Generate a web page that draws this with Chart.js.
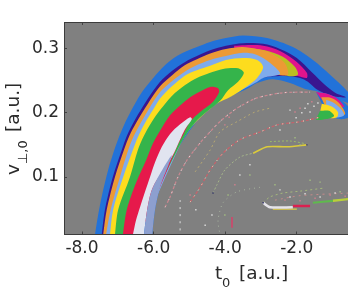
<!DOCTYPE html>
<html>
<head>
<meta charset="utf-8">
<style>
  html, body { margin: 0; padding: 0; background: #fff; }
  canvas { display: block; }
</style>
<script src="https://cdn.jsdelivr.net/npm/chart.js@4"></script>
</head>
<body>
<canvas id="chart" width="348" height="291"></canvas>
<script>
// axis ranges and ticks
var xRange = [-8.503, -0.57];
var yRange = [0.0106, 0.341];
var xTicks = [-8, -6, -4, -2];
var yTicks = [0.1, 0.2, 0.3];

// filled regions, outer to inner (t0, v)
var blueX = [-7.64,-7.55,-7.44,-7.27,-7.08,-6.91,-6.73,-6.52,-6.30,-6.04,-5.79,-5.51,-5.18,-4.79,-4.42,-3.98,-3.50,-2.83,-2.11,-1.55,-1.07,-0.51,-0.51,-0.93,-1.49,-1.77,-2.19,-2.67,-3.11,-3.36,-3.59,-4.15,-4.70,-4.98,-5.21,-5.49,-5.82,-5.96,-6.04];
var blueY = [.010,.041,.072,.111,.145,.170,.192,.214,.234,.252,.268,.282,.293,.302,.310,.316,.320,.316,.302,.282,.259,.228,.215,.223,.234,.237,.246,.252,.246,.238,.232,.217,.192,.173,.154,.131,.084,.049,.010];
var navyX = [-7.45,-7.36,-7.14,-6.89,-6.74,-6.52,-6.18,-5.82,-5.49,-5.12,-4.79,-4.42,-3.98,-3.50,-2.94,-2.47,-2.00,-1.58,-1.21,-0.93,-0.63,-1.02,-1.46,-1.69,-1.91,-2.33,-2.97,-3.36,-4.15,-4.98,-5.40,-6.80];
var navyY = [.010,.049,.100,.142,.165,.189,.220,.248,.265,.279,.288,.297,.304,.308,.307,.299,.285,.263,.243,.231,.224,.226,.237,.248,.254,.257,.254,.242,.220,.176,.142,.010];
var magentaX = [-3.75,-3.45,-2.94,-2.47,-2.00,-1.72,-1.72,-1.97,-2.33,-2.89,-3.45,-3.75];
var magentaY = [.304,.305,.304,.296,.279,.262,.254,.257,.259,.263,.282,.297];
var oliveX = [-3.45,-2.89,-2.39,-2.05,-1.97,-2.25,-2.61,-3.31];
var oliveY = [.301,.297,.287,.271,.259,.257,.266,.282];
var orangeX = [-7.41,-7.31,-7.08,-6.83,-6.67,-6.49,-6.16,-5.82,-5.49,-5.12,-4.79,-4.42,-3.98,-3.50,-2.94,-2.67,-2.33,-2.25,-2.61,-2.97,-3.31,-4.15,-4.98,-5.32,-6.66];
var orangeY = [.010,.049,.100,.142,.165,.184,.214,.241,.258,.274,.283,.292,.299,.302,.297,.291,.277,.259,.259,.256,.245,.220,.176,.145,.010];
var skyX = [-7.33,-7.20,-6.94,-6.71,-6.55,-6.35,-6.10,-5.82,-5.49,-5.12,-4.79,-4.42,-3.98,-3.50,-3.17,-2.94,-2.61,-2.47,-2.94,-3.17,-3.59,-4.15,-4.70,-4.98,-5.26,-6.38];
var skyY = [.010,.049,.100,.142,.164,.185,.209,.232,.249,.264,.274,.282,.288,.293,.291,.285,.271,.260,.254,.246,.234,.218,.193,.175,.150,.010];
var yellowX = [-7.22,-7.13,-6.85,-6.58,-6.44,-6.24,-6.02,-5.82,-5.49,-5.12,-4.79,-4.42,-3.98,-3.50,-3.11,-2.94,-3.11,-3.42,-3.81,-4.29,-4.98,-5.32,-6.66];
var yellowY = [.010,.049,.100,.142,.162,.184,.204,.222,.241,.258,.266,.273,.282,.285,.282,.271,.254,.240,.226,.212,.176,.148,.010];
var greenX = [-7.08,-6.99,-6.66,-6.44,-6.27,-6.07,-5.82,-5.49,-5.12,-4.79,-4.42,-4.06,-3.64,-3.48,-3.64,-3.92,-4.15,-4.70,-4.98,-5.26,-6.52];
var greenY = [.010,.049,.100,.142,.164,.184,.204,.226,.243,.254,.262,.268,.269,.262,.248,.235,.218,.193,.175,.150,.010];
var crimsonX = [-6.86,-6.75,-6.49,-6.21,-6.02,-5.82,-5.54,-5.26,-4.98,-4.70,-4.42,-4.20,-4.17,-4.34,-4.70,-4.98,-5.18,-5.32,-6.38];
var crimsonY = [.010,.049,.091,.126,.152,.172,.196,.211,.224,.233,.240,.238,.232,.217,.201,.186,.165,.150,.010];
var lavenderX = [-6.58,-6.49,-6.38,-6.24,-6.10,-5.96,-5.77,-5.54,-5.26,-4.98,-4.93,-5.10,-5.23,-5.49,-6.02,-6.18,-6.27];
var lavenderY = [.010,.033,.053,.077,.100,.123,.147,.167,.182,.193,.190,.176,.162,.131,.084,.049,.010];
var periwinkleX = [-6.27,-6.18,-6.02,-5.49,-5.82,-5.96,-6.04];
var periwinkleY = [.010,.049,.084,.134,.084,.049,.010];

// small lobe at the right end of the arch
var lobeBlueX = [-1.46,-1.07,-0.79,-0.57,-0.51,-0.68,-0.93,-1.30];
var lobeBlueY = [.232,.228,.220,.210,.195,.190,.192,.214];
var lobeMagentaX = [-1.46,-1.13,-0.85,-0.68,-0.96,-1.30];
var lobeMagentaY = [.232,.229,.221,.209,.213,.220];
var lobeOrangeX = [-1.32,-1.04,-0.82,-0.65,-0.93,-1.24];
var lobeOrangeY = [.224,.223,.215,.198,.196,.214];
var lobeSkyX = [-1.18,-0.96,-0.77,-0.68,-0.93,-1.18];
var lobeSkyY = [.220,.215,.206,.196,.193,.207];
var lobeYellowX = [-1.30,-1.04,-0.85,-0.88,-1.13,-1.35];
var lobeYellowY = [.214,.210,.201,.193,.192,.201];
var lobeGreenX = [-1.35,-1.10,-0.96,-1.18,-1.46,-1.41];
var lobeGreenY = [.203,.203,.195,.190,.189,.196];

// thin speckled filaments
var fil1X = [-5.68,-5.54,-5.32,-5.07,-4.70,-4.51,-4.15,-3.67,-3.11,-2.39,-1.63];
var fil1Y = [.053,.069,.100,.126,.153,.165,.186,.207,.223,.231,.232];
var fil2X = [-4.98,-4.70,-4.42,-4.06,-3.59,-3.03,-2.55,-1.91,-1.35];
var fil2Y = [.061,.084,.111,.137,.158,.170,.181,.186,.193];
var fil3X = [-4.34,-4.23,-4.01,-3.59,-3.22];
var fil3Y = [.075,.088,.111,.131,.137];
var fil3EndX = [-3.22,-2.83,-2.27,-1.72];
var fil3EndY = [.137,.147,.147,.150];
var fil3TopX = [-2.75,-2.19,-1.77];
var fil3TopY = [.155,.156,.152];
var fil4X = [-4.84,-4.42,-4.15,-3.67,-3.17,-2.75];
var fil4Y = [.108,.142,.170,.186,.201,.207];
var fil5X = [-3.03,-3.67,-4.06,-4.20,-4.15];
var fil5Y = [.084,.077,.060,.033,.011];
var fil6X = [-5.26,-5.26];
var fil6Y = [.064,.011];
var redCellX = [-3.81,-3.81];
var redCellY = [.038,.021];

// lens at lower right
var lensWhiteX = [-2.94,-2.75,-2.11];
var lensWhiteY = [.060,.053,.053];
var lensRedX = [-2.11,-1.63];
var lensRedY = [.055,.055];
var lensGreenX = [-1.55,-0.99];
var lensGreenY = [.060,.063];
var lensLimeX = [-0.99,-0.51];
var lensLimeY = [.063,.066];
var lensYellowX = [-2.67,-2.00];
var lensYellowY = [.050,.050];
var lensTopX = [-2.94,-2.75,-2.39,-1.91,-1.21];
var lensTopY = [.060,.069,.075,.078,.083];
var lensMidX = [-2.61,-1.91,-0.57];
var lensMidY = [.064,.071,.075];

var paleX = [-1.77,-1.63,-1.52,-1.41,-1.69,-1.86,-2.02,-2.19,-2.47,-2.19,-1.77,-1.35,-0.93,-4.37,-4.56,-4.82,-3.59,-3.31,-2.47];
var paleY = [.207,.201,.210,.215,.214,.200,.192,.204,.080,.069,.074,.069,.075,.041,.025,.049,.103,.119,.173];
var pinkX = [-1.91,-1.58,-2.05,-2.33,-1.91,-1.49,-1.07,-0.65,-4.98,-4.01,-3.89,-3.73];
var pinkY = [.207,.217,.201,.064,.063,.067,.072,.070,.072,.181,.193,.088];
var leafX = [-2.61,-1.63,-1.35,-2.05,-1.91,-3.31,-3.92,-4.01,-0.79];
var leafY = [.088,.095,.092,.161,.150,.103,.072,.041,.077];
var darkX = [-4.34,-2.94,-1.72];
var darkY = [.075,.060,.150];

function pts(xs, ys) {
    return xs.map(function(x, i) { return {x: x, y: ys[i]}; });
}

function region(xs, ys, color) {
    return {data: pts(xs, ys), showLine: true, fill: 'shape', backgroundColor: color,
        borderWidth: 0, pointRadius: 0, tension: 0.3};
}

function thread(xs, ys, color, width, dash) {
    return {data: pts(xs, ys), showLine: true, fill: false, borderColor: color,
        borderWidth: width, borderDash: dash || [], pointRadius: 0, tension: 0.25};
}

function specks(xs, ys, color) {
    return {data: pts(xs, ys), showLine: false, pointStyle: 'rect', pointRadius: 1,
        pointBorderWidth: 0, pointBackgroundColor: color};
}

var BLUE = '#2272d9', NAVY = '#3a1590', MAGENTA = '#e0148c', OLIVE = '#bcbd22', ORANGE = '#ec9a35',
    SKY = '#7fabec', YELLOW = '#fddc1e', GREEN = '#35b44b', CRIMSON = '#e6194b',
    LAVENDER = '#e1e4f0', PERI = '#8d9fcf';

var layers = [
    region(blueX, blueY, BLUE),
    region(navyX, navyY, NAVY),
    region(magentaX, magentaY, MAGENTA),
    region(oliveX, oliveY, OLIVE),
    region(orangeX, orangeY, ORANGE),
    region(skyX, skyY, SKY),
    region(yellowX, yellowY, YELLOW),
    region(greenX, greenY, GREEN),
    region(crimsonX, crimsonY, CRIMSON),
    region(lavenderX, lavenderY, LAVENDER),
    region(periwinkleX, periwinkleY, PERI),
    region(lobeBlueX, lobeBlueY, BLUE),
    region(lobeMagentaX, lobeMagentaY, MAGENTA),
    region(lobeOrangeX, lobeOrangeY, ORANGE),
    region(lobeSkyX, lobeSkyY, SKY),
    region(lobeYellowX, lobeYellowY, YELLOW),
    region(lobeGreenX, lobeGreenY, GREEN),
    thread(fil1X, fil1Y, '#c9868f', 1.2, [3, 2]),
    thread(fil1X, fil1Y, '#e6e0e0', 1, [1, 7]),
    thread(fil2X, fil2Y, '#c8606a', 1.2, [3, 2]),
    thread(fil2X, fil2Y, '#e8e8c8', 1, [1, 6]),
    thread(fil3X, fil3Y, '#a5b58a', 1, [2, 2]),
    thread(fil3EndX, fil3EndY, '#dccb3a', 1.6),
    thread(fil3TopX, fil3TopY, '#9dbb6a', 1, [2, 2]),
    thread(fil4X, fil4Y, '#b6a873', 1, [2, 3]),
    thread(fil5X, fil5Y, '#a9b5a0', 1, [1, 4]),
    thread(fil6X, fil6Y, '#dfe0e0', 1, [2, 5]),
    thread(redCellX, redCellY, '#c2506e', 2),
    thread(lensTopX, lensTopY, '#a5b87c', 1, [2, 3]),
    thread(lensMidX, lensMidY, '#c48a8a', 1, [2, 4]),
    thread(lensYellowX, lensYellowY, '#e3cf45', 1.2),
    thread(lensWhiteX, lensWhiteY, '#e6e4ea', 2.5),
    thread(lensRedX, lensRedY, '#dc2050', 2.5),
    thread(lensGreenX, lensGreenY, '#5fb94e', 2.2),
    thread(lensLimeX, lensLimeY, '#b9cf3a', 2.4),
    specks(paleX, paleY, '#dcdcdc'),
    specks(pinkX, pinkY, '#cf7f8c'),
    specks(leafX, leafY, '#a2bb80'),
    specks(darkX, darkY, '#34346a')
];
layers.forEach(function(ds, i) { ds.order = layers.length - i; });

var TEXT = '#2b2b2b', FONT = 'DejaVu Sans';

// plot background and the axis titles with their subscripts
var plotExtras = {
    id: 'plotExtras',
    beforeDraw: function(chart) {
        var a = chart.chartArea, ctx = chart.ctx;
        ctx.fillStyle = '#808080';
        ctx.fillRect(a.left, a.top, a.right - a.left, a.bottom - a.top);
    },
    afterDraw: function(chart) {
        var ctx = chart.ctx;
        ctx.save();
        ctx.fillStyle = TEXT;
        ctx.textBaseline = 'alphabetic';
        ctx.font = '18.5px "' + FONT + '"';
        ctx.fillText('t', 215, 279);
        ctx.fillText('[a.u.]', 239, 279);
        ctx.font = '13px "' + FONT + '"';
        ctx.fillText('0', 222, 287);
        ctx.translate(19, 0);
        ctx.rotate(-Math.PI / 2);
        ctx.font = '18.5px "' + FONT + '"';
        ctx.fillText('v', -175, 0);
        ctx.fillText('[a.u.]', -132, 0);
        ctx.font = '13px "' + FONT + '"';
        ctx.fillText('\u22a5,0', -164, 8);
        ctx.restore();
    }
};

function fixTicks(list) {
    return function(scale) {
        scale.ticks = list.map(function(v) { return {value: v}; });
    };
}

// fixed axis box, no extra room for labels hanging over the ends
function fixBox(size) {
    return function(s) {
        if (s.isHorizontal()) s.height = size; else s.width = size;
        s.paddingLeft = s.paddingRight = s.paddingTop = s.paddingBottom = 0;
    };
}

var axisGrid = {drawOnChartArea: false, drawTicks: true, tickLength: -3, color: '#444', z: 1};
var axisBorder = {display: true, color: '#3c3c3c', width: 1, z: 1};

new Chart(document.getElementById('chart'), {
    type: 'scatter',
    data: {datasets: layers},
    plugins: [plotExtras],
    options: {
        responsive: false,
        animation: false,
        layout: {autoPadding: false, padding: 0},
        plugins: {legend: {display: false}, tooltip: {enabled: false}},
        scales: {
            x: {
                type: 'linear', position: 'bottom', min: xRange[0], max: xRange[1],
                afterBuildTicks: fixTicks(xTicks),
                afterFit: fixBox(56.5),
                grid: axisGrid, border: axisBorder,
                ticks: {color: TEXT, font: {family: FONT, size: 17}, padding: 7, maxRotation: 0,
                    autoSkip: false, callback: function(v) { return v.toFixed(1); }}
            },
            xTop: {
                type: 'linear', position: 'top', min: xRange[0], max: xRange[1],
                afterBuildTicks: fixTicks(xTicks),
                afterFit: fixBox(22),
                grid: axisGrid, border: axisBorder,
                ticks: {display: false}
            },
            y: {
                type: 'linear', position: 'left', min: yRange[0], max: yRange[1],
                afterBuildTicks: fixTicks(yTicks),
                afterFit: fixBox(64),
                grid: axisGrid, border: axisBorder,
                ticks: {color: TEXT, font: {family: FONT, size: 17}, padding: 8,
                    autoSkip: false, callback: function(v) { return v.toFixed(1); }}
            }
        }
    }
});
</script>
</body>
</html>
